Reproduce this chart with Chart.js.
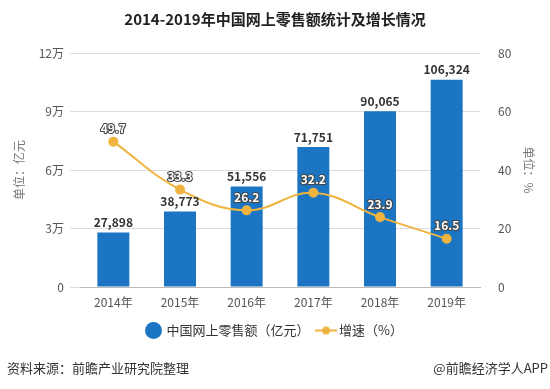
<!DOCTYPE html>
<html>
<head>
<meta charset="utf-8">
<script src="https://cdn.jsdelivr.net/npm/chart.js@4/dist/chart.umd.min.js"></script>
<style>
  html, body { margin: 0; padding: 0; background: #fff; }
  #wrap { width: 550px; height: 389px; position: relative; }
</style>
</head>
<body>
<div id="wrap"><canvas id="chart" width="550" height="389"></canvas></div>
<script>
'use strict';

// chart data
var years = ['2014年', '2015年', '2016年', '2017年', '2018年', '2019年'];
var salesValues = [27898, 38773, 51556, 71751, 90065, 106324];
var growthValues = [49.7, 33.3, 26.2, 32.2, 23.9, 16.5];
var leftTicks = [0, 30000, 60000, 90000, 120000];
var leftTickLabels = ['0', '3万', '6万', '9万', '12万'];
var salesLabel = '中国网上零售额（亿元）';
var growthLabel = '增速（%）';

var fontFamily = '"Noto Sans CJK SC", "Noto Sans", sans-serif';
var barColor = '#1b75c2';
var lineColor = '#eeb43f';

// little icon for the line series in the legend
function makeLineIcon() {
  var c = document.createElement('canvas');
  c.width = 22;
  c.height = 10;
  var g = c.getContext('2d');
  g.strokeStyle = lineColor;
  g.lineWidth = 2;
  g.beginPath();
  g.moveTo(0, 5);
  g.lineTo(22, 5);
  g.stroke();
  g.fillStyle = lineColor;
  g.beginPath();
  g.arc(11, 5, 4, 0, Math.PI * 2);
  g.fill();
  return c;
}
var lineIcon = makeLineIcon();

// value labels, title and footer
var extrasPlugin = {
  id: 'extras',
  afterDatasetsDraw: function(chart) {
    var ctx = chart.ctx;
    ctx.save();
    ctx.textAlign = 'center';
    ctx.textBaseline = 'bottom';

    var barMeta = chart.getDatasetMeta(0);
    ctx.font = 'bold 12px ' + fontFamily;
    ctx.fillStyle = '#333';
    for (var i = 0; i < barMeta.data.length; i++) {
      var bar = barMeta.data[i];
      ctx.fillText(salesValues[i].toLocaleString('en-US'), bar.x, bar.y - 4);
    }

    var lineMeta = chart.getDatasetMeta(1);
    ctx.lineWidth = 2;
    ctx.strokeStyle = '#444';
    ctx.lineJoin = 'round';
    for (var j = 0; j < lineMeta.data.length; j++) {
      var pt = lineMeta.data[j];
      var txt = growthValues[j].toFixed(1);
      ctx.strokeText(txt, pt.x, pt.y - 7);
      ctx.fillStyle = '#fff';
      ctx.fillText(txt, pt.x, pt.y - 7);
    }
    ctx.restore();
  },
  afterDraw: function(chart) {
    var ctx = chart.ctx;
    ctx.save();
    ctx.textBaseline = 'middle';
    ctx.fillStyle = '#222';
    ctx.font = 'bold 15px ' + fontFamily;
    ctx.textAlign = 'center';
    ctx.fillText('2014-2019年中国网上零售额统计及增长情况', 275, 19);

    ctx.font = '13px ' + fontFamily;
    ctx.fillStyle = '#333';
    ctx.textAlign = 'left';
    ctx.fillText('资料来源：前瞻产业研究院整理', 7, 368);
    ctx.textAlign = 'right';
    ctx.fillText('@前瞻经济学人APP', 548, 368);
    ctx.restore();
  }
};

var canvas = document.getElementById('chart');
var ctx = canvas.getContext('2d');

new Chart(ctx, {
  type: 'bar',
  data: {
    labels: years,
    datasets: [
      {
        label: salesLabel,
        data: salesValues,
        backgroundColor: barColor,
        yAxisID: 'y',
        barPercentage: 0.48,
        categoryPercentage: 1,
        order: 2,
        pointStyle: 'circle'
      },
      {
        type: 'line',
        label: growthLabel,
        data: growthValues,
        borderColor: lineColor,
        backgroundColor: lineColor,
        borderWidth: 2,
        pointRadius: 4,
        pointStyle: 'circle',
        pointBackgroundColor: lineColor,
        pointBorderColor: lineColor,
        tension: 0.4,
        yAxisID: 'y1',
        order: 1
      }
    ]
  },
  options: {
    responsive: false,
    animation: false,
    devicePixelRatio: 1,
    layout: { padding: { top: 53, left: 8, right: 8, bottom: 42 } },
    plugins: {
      title: { display: false },
      tooltip: { enabled: false },
      legend: {
        position: 'bottom',
        labels: {
          usePointStyle: true,
          boxHeight: 12,
          padding: 10,
          color: '#333',
          font: { family: fontFamily, size: 13 },
          sort: function(a, b) { return a.datasetIndex - b.datasetIndex; },
          generateLabels: function(chart) {
            var items = Chart.defaults.plugins.legend.labels.generateLabels(chart);
            items.forEach(function(item) {
              if (item.datasetIndex === 1) {
                item.pointStyle = lineIcon;
              }
            });
            return items;
          }
        }
      }
    },
    scales: {
      x: {
        afterFit: function(scale) { scale.height = 27; },
        grid: { display: false, drawTicks: true },
        border: { color: '#bbb' },
        ticks: { color: '#555', font: { family: fontFamily, size: 12 }, padding: 0 }
      },
      y: {
        position: 'left',
        min: 0,
        max: 120000,
        afterBuildTicks: function(scale) {
          scale.ticks = leftTicks.map(function(v) { return { value: v }; });
        },
        afterFit: function(scale) { scale.width = 72; },
        grid: { color: '#dcdcdc', tickLength: 10 },
        border: { display: false },
        ticks: {
          color: '#555',
          padding: 6,
          font: { family: fontFamily, size: 12 },
          callback: function(value) {
            var idx = leftTicks.indexOf(value);
            return idx >= 0 ? leftTickLabels[idx] : '';
          }
        },
        title: {
          display: true,
          text: '单位：亿元',
          color: '#777',
          padding: { bottom: 10 },
          font: { family: fontFamily, size: 12 }
        }
      },
      y1: {
        position: 'right',
        min: 0,
        max: 80,
        afterFit: function(scale) { scale.width = 62; },
        grid: { display: false },
        border: { display: false },
        ticks: {
          stepSize: 20,
          color: '#555',
          padding: 10,
          font: { family: fontFamily, size: 12 }
        },
        title: {
          display: true,
          text: '单位：%',
          color: '#777',
          padding: { top: 6 },
          font: { family: fontFamily, size: 12 }
        }
      }
    }
  },
  plugins: [extrasPlugin]
});
</script>
</body>
</html>
